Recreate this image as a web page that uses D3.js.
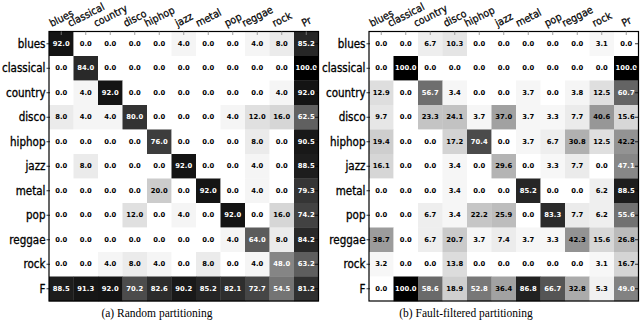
<!DOCTYPE html>
<html>
<head>
<meta charset="utf-8">
<script src="https://cdn.jsdelivr.net/npm/d3@7"></script>
<style>
  body { margin: 0; background: #fff; }
  svg { display: block; }
</style>
</head>
<body>
<svg id="chart"></svg>
<script>
// genres / labels
const genres = ["blues", "classical", "country", "disco", "hiphop", "jazz", "metal", "pop", "reggae", "rock"];
const col_labels = genres.concat(["Pr"]);
const row_labels = genres.concat(["F"]);

// (a) random partitioning -- last column is Pr, last row is F
const random_vals = [
  [92.0, 0.0, 0.0, 0.0, 0.0, 4.0, 0.0, 0.0, 4.0, 8.0, 85.2],
  [0.0, 84.0, 0.0, 0.0, 0.0, 0.0, 0.0, 0.0, 0.0, 0.0, 100.0],
  [0.0, 4.0, 92.0, 0.0, 0.0, 0.0, 0.0, 0.0, 0.0, 4.0, 92.0],
  [8.0, 4.0, 4.0, 80.0, 0.0, 0.0, 0.0, 4.0, 12.0, 16.0, 62.5],
  [0.0, 0.0, 0.0, 0.0, 76.0, 0.0, 0.0, 0.0, 8.0, 0.0, 90.5],
  [0.0, 8.0, 0.0, 0.0, 0.0, 92.0, 0.0, 0.0, 4.0, 0.0, 88.5],
  [0.0, 0.0, 0.0, 0.0, 20.0, 0.0, 92.0, 0.0, 4.0, 0.0, 79.3],
  [0.0, 0.0, 0.0, 12.0, 0.0, 4.0, 0.0, 92.0, 0.0, 16.0, 74.2],
  [0.0, 0.0, 0.0, 0.0, 0.0, 0.0, 0.0, 4.0, 64.0, 8.0, 84.2],
  [0.0, 0.0, 4.0, 8.0, 4.0, 0.0, 8.0, 0.0, 4.0, 48.0, 63.2],
  [88.5, 91.3, 92.0, 70.2, 82.6, 90.2, 85.2, 82.1, 72.7, 54.5, 81.2]
];

// (b) fault-filtered partitioning
const fault_vals = [
  [0.0, 0.0, 6.7, 10.3, 0.0, 0.0, 0.0, 0.0, 0.0, 3.1, 0.0],
  [0.0, 100.0, 0.0, 0.0, 0.0, 0.0, 0.0, 0.0, 0.0, 0.0, 100.0],
  [12.9, 0.0, 56.7, 3.4, 0.0, 0.0, 3.7, 0.0, 3.8, 12.5, 60.7],
  [9.7, 0.0, 23.3, 24.1, 3.7, 37.0, 3.7, 3.3, 7.7, 40.6, 15.6],
  [19.4, 0.0, 0.0, 17.2, 70.4, 0.0, 3.7, 6.7, 30.8, 12.5, 42.2],
  [16.1, 0.0, 0.0, 3.4, 0.0, 29.6, 0.0, 3.3, 7.7, 0.0, 47.1],
  [0.0, 0.0, 0.0, 3.4, 0.0, 0.0, 85.2, 0.0, 0.0, 6.2, 88.5],
  [0.0, 0.0, 6.7, 3.4, 22.2, 25.9, 0.0, 83.3, 7.7, 6.2, 55.6],
  [38.7, 0.0, 6.7, 20.7, 3.7, 7.4, 3.7, 3.3, 42.3, 15.6, 26.8],
  [3.2, 0.0, 0.0, 13.8, 0.0, 0.0, 0.0, 0.0, 0.0, 3.1, 16.7],
  [0.0, 100.0, 58.6, 18.9, 52.8, 36.4, 86.8, 66.7, 32.8, 5.3, 49.0]
];

const captions = ["(a) Random partitioning", "(b) Fault-filtered partitioning"];

const W = 640, H = 336;
const CELL = 24.5;
const SIZE = CELL * 11;
const ROT = 27; // graus
const FS_COL = 10.5;

const $svg = d3.select("#chart").attr("width", W).attr("height", H);
$svg.append("rect").attr("width", W).attr("height", H).attr("fill", "#fff");

// grey scale, 0 -> white, 100 -> black
const cor = d3.scaleLinear().domain([0, 100]).range(["#ffffff", "#000000"]);
const fmt = d3.format(".1f");

const paineis = [
  { vals: random_vals, x0: 49, y0: 31.5, cap: captions[0], capx: 157 },
  { vals: fault_vals, x0: 369, y0: 31.5, cap: captions[1], capx: 466 }
];

paineis.forEach(function(p) {
  const x = d3.scaleBand().domain(col_labels).range([p.x0, p.x0 + SIZE]);
  const y = d3.scaleBand().domain(row_labels).range([p.y0, p.y0 + SIZE]);

  const celulas = [];
  p.vals.forEach((linha, i) => linha.forEach((v, j) => {
    celulas.push({ row: row_labels[i], col: col_labels[j], v: v });
  }));

  const $g = $svg.append("g");

  $g.selectAll("rect.cell")
    .data(celulas)
    .enter()
    .append("rect")
    .attr("class", "cell")
    .attr("x", d => x(d.col))
    .attr("y", d => y(d.row))
    .attr("width", x.bandwidth() + 0.3)
    .attr("height", y.bandwidth() + 0.3)
    .attr("fill", d => cor(d.v));

  $g.selectAll("text.val")
    .data(celulas)
    .enter()
    .append("text")
    .attr("class", "val")
    .attr("x", d => x(d.col) + x.bandwidth() / 2)
    .attr("y", d => y(d.row) + y.bandwidth() / 2)
    .attr("text-anchor", "middle")
    .attr("dominant-baseline", "central")
    .style("font-family", "DejaVu Sans")
    .style("font-weight", "bold")
    .style("font-size", "6.8px")
    .attr("fill", d => d.v > 45 ? "#fff" : "#000")
    .text(d => fmt(d.v));

  // frame
  $g.append("rect")
    .attr("x", p.x0).attr("y", p.y0)
    .attr("width", SIZE).attr("height", SIZE)
    .attr("fill", "none").attr("stroke", "#000").attr("stroke-width", 1.2);

  // ticks
  const tk = 3.5;
  $g.selectAll("line.ytick-l").data(row_labels).enter().append("line")
    .attr("x1", p.x0 - 2.5).attr("x2", p.x0 + 1)
    .attr("y1", d => y(d) + CELL / 2).attr("y2", d => y(d) + CELL / 2)
    .attr("stroke", "#000").attr("stroke-width", 0.8);
  $g.selectAll("line.ytick-r").data(row_labels).enter().append("line")
    .attr("x1", p.x0 + SIZE - tk).attr("x2", p.x0 + SIZE)
    .attr("y1", d => y(d) + CELL / 2).attr("y2", d => y(d) + CELL / 2)
    .attr("stroke", "#000").attr("stroke-width", 0.8);
  $g.selectAll("line.xtick-t").data(col_labels).enter().append("line")
    .attr("x1", d => x(d) + CELL / 2).attr("x2", d => x(d) + CELL / 2)
    .attr("y1", p.y0).attr("y2", p.y0 + tk)
    .attr("stroke", "#888").attr("stroke-width", 0.8);

  // row labels
  $g.selectAll("text.rlab").data(row_labels).enter().append("text")
    .attr("x", p.x0 - 3.5)
    .attr("y", d => y(d) + CELL / 2)
    .attr("text-anchor", "end")
    .attr("dominant-baseline", "central")
    .style("font-family", "DejaVu Sans Condensed, DejaVu Sans")
    .style("font-stretch", "condensed")
    .style("font-size", "11.5px")
    .attr("stroke", "#000").attr("stroke-width", 0.3)
    .text(d => d);

  // column labels, rotated; bottom of the rotated box sits on a common line
  const rad = ROT * Math.PI / 180;
  $g.selectAll("text.clab").data(col_labels).enter().append("text")
    .attr("text-anchor", "middle")
    .attr("dominant-baseline", "central")
    .style("font-family", "DejaVu Sans Condensed, DejaVu Sans")
    .style("font-stretch", "condensed")
    .style("font-size", FS_COL + "px")
    .attr("stroke", "#000").attr("stroke-width", 0.25)
    .text(d => d)
    .attr("transform", function(d) {
      const tw = this.getComputedTextLength();
      const th = FS_COL * 0.95;
      const hb = (tw * Math.sin(rad) + th * Math.cos(rad)) / 2;
      return `translate(${x(d) + CELL / 2},${p.y0 - 3.5 - hb}) rotate(${-ROT})`;
    });

  // caption
  $svg.append("text")
    .attr("x", p.capx).attr("y", 317)
    .attr("text-anchor", "middle")
    .style("font-family", "Liberation Serif")
    .style("font-size", "11.5px")
    .text(p.cap);
});
</script>
</body>
</html>
